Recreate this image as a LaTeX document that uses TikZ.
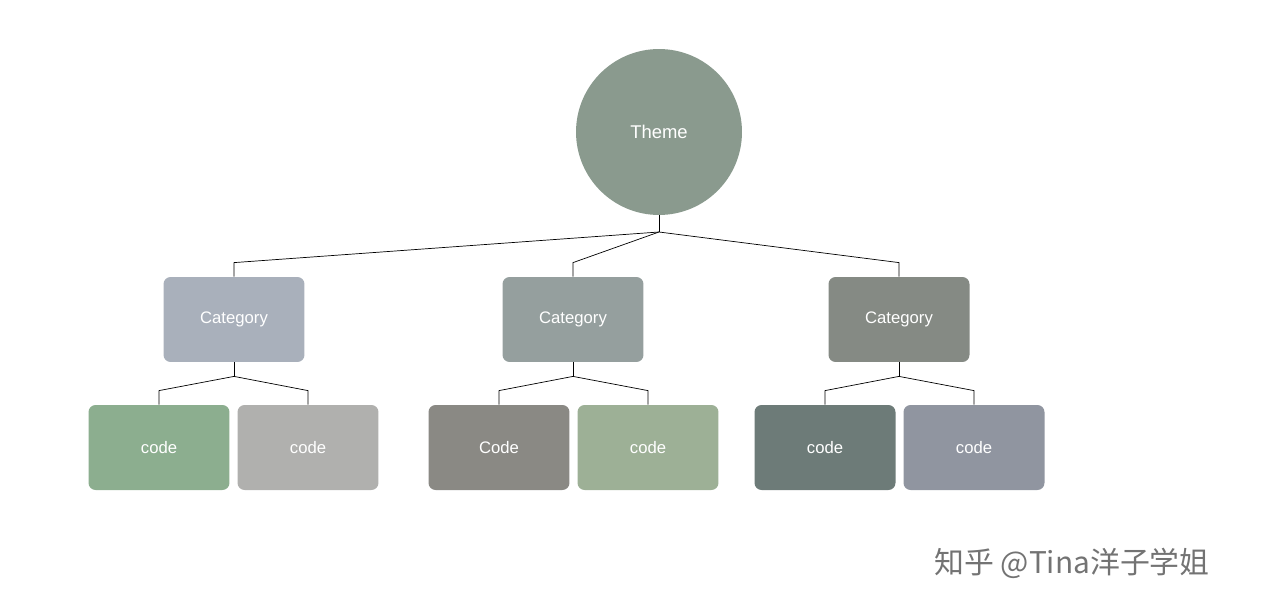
\documentclass[tikz,border=0pt]{standalone}
\usepackage{fontspec}
\setmainfont{Liberation Sans}
\newfontfamily\cjk{Noto Sans CJK SC}
\usetikzlibrary{positioning}
\definecolor{thmgreen}{RGB}{138,154,142}
\definecolor{catA}{RGB}{169,176,187}
\definecolor{catB}{RGB}{149,159,158}
\definecolor{catC}{RGB}{133,138,132}
\definecolor{codeA}{RGB}{140,174,143}
\definecolor{codeB}{RGB}{176,176,174}
\definecolor{codeC}{RGB}{138,137,132}
\definecolor{codeD}{RGB}{157,176,150}
\definecolor{codeE}{RGB}{109,123,120}
\definecolor{codeF}{RGB}{144,149,160}
\tikzset{
  box/.style={rectangle, rounded corners=4pt, minimum width=2.82cm,
    minimum height=1.7cm, text=white, font=\fontsize{9.5}{11}\selectfont},
  link/.style={black, thin}
}

\begin{document}
\begin{tikzpicture}[x=0.02cm, y=-0.02cm]
  \useasboundingbox (0,0) rectangle (1280,612);

  % Theme
  \node[circle, fill=thmgreen, minimum size=3.32cm, text=white,
    font=\fontsize{10.5}{12}\selectfont] (theme) at (659,132) {Theme};

  % Categories
  \node[box, fill=catA] (cat1) at (234,319.5) {Category};
  \node[box, fill=catB] (cat2) at (573,319.5) {Category};
  \node[box, fill=catC] (cat3) at (899,319.5) {Category};

  % Codes
  \node[box, fill=codeA] (c11) at (159,447.5) {code};
  \node[box, fill=codeB] (c12) at (308,447.5) {code};
  \node[box, fill=codeC] (c21) at (499,447.5) {Code};
  \node[box, fill=codeD] (c22) at (648,447.5) {code};
  \node[box, fill=codeE] (c31) at (825,447.5) {code};
  \node[box, fill=codeF] (c32) at (974,447.5) {code};

  % Theme to categories
  \coordinate (tj) at (659,232);
  \draw[link] (theme.south) -- (tj);
  \foreach \c in {cat1,cat2,cat3}
    \draw[link] (tj) -- ([yshift=8pt]\c.north) -- (\c.north);

  % Categories to codes
  \foreach \c/\a/\b in {cat1/c11/c12,cat2/c21/c22,cat3/c31/c32} {
    \coordinate (\c j) at ([yshift=-8pt]\c.south);
    \draw[link] (\c.south) -- (\c j);
    \draw[link] (\c j) -- ([yshift=8pt]\a.north) -- (\a.north);
    \draw[link] (\c j) -- ([yshift=8pt]\b.north) -- (\b.north);
  }

  % Watermark
  \node[text=black!55, font=\cjk\fontsize{17}{20}\selectfont] (mark) at (1072,563)
    {知乎 @Tina洋子学姐};
\end{tikzpicture}
\end{document}
